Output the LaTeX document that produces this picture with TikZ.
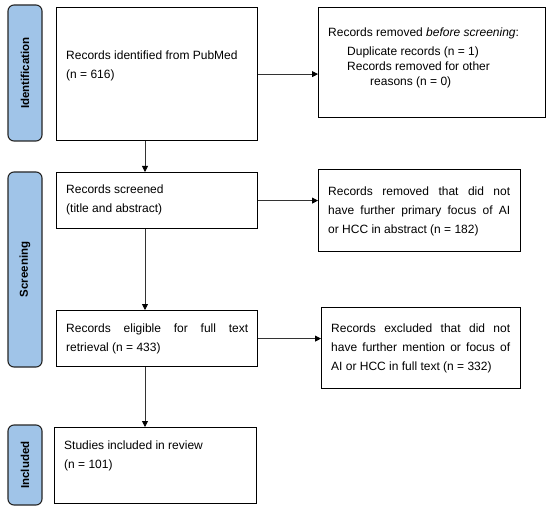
\documentclass[tikz,border=0pt]{standalone}
\usepackage{fontspec}
\setmainfont{Liberation Sans}
\usetikzlibrary{arrows.meta,calc}
\definecolor{phasecol}{RGB}{160,196,232}
\begin{document}
\begin{tikzpicture}[x=1pt,y=-1pt,
  box/.style={draw=black,line width=1.2pt,inner sep=0pt,anchor=north west},
  phase/.style={draw=black!85,line width=1.1pt,fill=phasecol,rounded corners=6pt,rotate=90,
    inner sep=0pt,font=\bfseries\fontsize{11.5}{12}\selectfont},
  txt/.style={anchor=west,align=left,inner sep=0pt,font=\fontsize{12}{19}\selectfont},
  arr/.style={draw=black!80,line width=0.8pt,-{Triangle[length=6pt,width=6pt,black]}}]
\useasboundingbox[fill=white] (0,0) rectangle (550,511);

% phase labels
\node[phase,minimum width=136pt,minimum height=34pt] (pid) at (25,73) {Identification};
\node[phase,minimum width=195pt,minimum height=34pt] (psc) at (25,269.5) {Screening};
\node[phase,minimum width=80pt,minimum height=34pt] (pin) at (25,465) {Included};

% boxes
\node[box,minimum width=201pt,minimum height=133pt] (b1) at (56,7) {};
\node[box,minimum width=227pt,minimum height=110pt] (b2) at (318,7) {};
\node[box,minimum width=201pt,minimum height=56pt] (b3) at (56,172) {};
\node[box,minimum width=202pt,minimum height=82pt] (b4) at (318,169) {};
\node[box,minimum width=201pt,minimum height=56pt] (b5) at (56,310) {};
\node[box,minimum width=199pt,minimum height=81pt] (b6) at (321,307) {};
\node[box,minimum width=202pt,minimum height=76pt] (b7) at (54,427) {};

% texts
\node[txt] (t1) at (66,65.5) {Records identified from PubMed\\(n = 616)};
\node[txt,font=\fontsize{12}{14.8}\selectfont] (t2) at (328,58) {Records removed \textit{before screening}:\\[4.5pt]
\hspace*{19pt}Duplicate records (n = 1)\\
\hspace*{19pt}Records removed for other\\
\hspace*{42pt}reasons (n = 0)};
\node[txt] (t3) at (66,200) {Records screened\\(title and abstract)};
\node[txt] (t4) at (328,211) {\makebox[182pt][s]{Records removed that did not}\\
\makebox[182pt][s]{have further primary focus of AI}\\
or HCC in abstract (n = 182)};
\node[txt] (t5) at (66,339) {\makebox[182pt][s]{Records eligible for full text}\\retrieval (n = 433)};
\node[txt] (t6) at (331,348) {\makebox[179pt][s]{Records excluded that did not}\\
\makebox[179pt][s]{have further mention or focus of}\\
AI or HCC in full text (n = 332)};
\node[txt] (t7) at (64,456) {Studies included in review\\(n = 101)};

% connectors
\coordinate (vx) at (145,0);
\draw[arr] (b1.south -| vx) -- (b3.north -| vx);
\draw[arr] (b3.south -| vx) -- (b5.north -| vx);
\draw[arr] (b5.south -| vx) -- (b7.north -| vx);
\draw[arr] (b1.east) -- (b1.east -| b2.west);
\draw[arr] (b3.east) -- (b3.east -| b4.west);
\draw[arr] (b5.east) -- (b5.east -| b6.west);
\end{tikzpicture}
\end{document}
